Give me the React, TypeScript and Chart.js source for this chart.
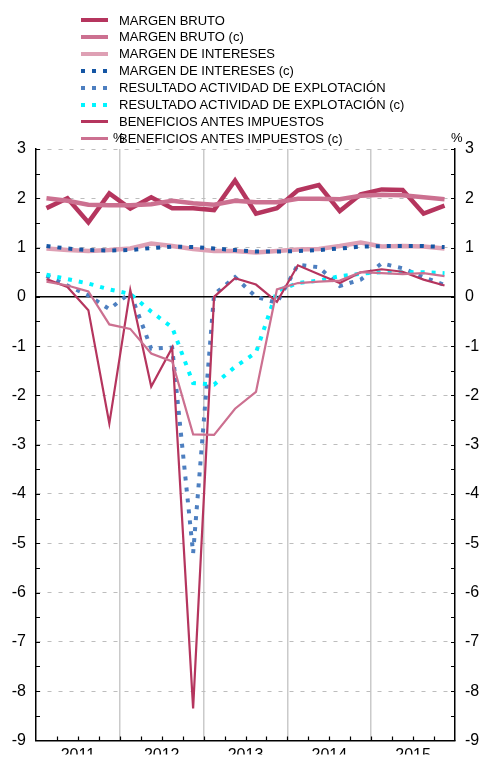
import React, { useEffect, useRef } from 'react';
import { Chart, registerables } from 'chart.js';

Chart.register(...registerables);

const FONT = "'Liberation Sans', Arial, Helvetica, sans-serif";

// 20 quarters, 2011 T1 .. 2015 T4
const QUARTERS = [
  '2011-T1', '2011-T2', '2011-T3', '2011-T4',
  '2012-T1', '2012-T2', '2012-T3', '2012-T4',
  '2013-T1', '2013-T2', '2013-T3', '2013-T4',
  '2014-T1', '2014-T2', '2014-T3', '2014-T4',
  '2015-T1', '2015-T2', '2015-T3', '2015-T4',
];
const YEARS = ['2011', '2012', '2013', '2014', '2015'];
const Y_TICKS_MIN = -9;
const Y_TICKS_MAX = 3;

const MARGEN_BRUTO = [1.80, 2.00, 1.51, 2.10, 1.79, 2.02, 1.80, 1.80, 1.76, 2.36, 1.69, 1.80, 2.16, 2.27, 1.74, 2.08, 2.18, 2.17, 1.69, 1.85];
const MARGEN_BRUTO_C = [2.00, 1.95, 1.87, 1.86, 1.86, 1.88, 1.95, 1.90, 1.87, 1.95, 1.92, 1.92, 1.99, 1.99, 1.98, 2.05, 2.07, 2.06, 2.02, 1.98];
const MARGEN_INTERESES = [0.98, 0.95, 0.93, 0.95, 0.98, 1.08, 1.03, 0.97, 0.93, 0.93, 0.90, 0.93, 0.96, 0.97, 1.03, 1.10, 1.02, 1.03, 1.02, 0.98];
const MARGEN_INTERESES_C = [1.03, 0.98, 0.95, 0.94, 0.95, 0.99, 1.02, 1.01, 0.98, 0.95, 0.92, 0.92, 0.93, 0.95, 0.98, 1.02, 1.03, 1.03, 1.03, 1.01];
const RESULTADO = [0.43, 0.23, 0.03, -0.25, 0.08, -1.05, -1.03, -5.2, 0.05, 0.40, 0.0, -0.12, 0.65, 0.60, 0.22, 0.35, 0.68, 0.58, 0.40, 0.24];
const RESULTADO_C = [0.45, 0.36, 0.27, 0.15, 0.06, -0.30, -0.62, -1.75, -1.78, -1.42, -1.13, 0.12, 0.28, 0.33, 0.42, 0.47, 0.50, 0.50, 0.50, 0.48];
const BENEFICIOS = [0.36, 0.20, -0.27, -2.57, 0.14, -1.82, -1.03, -8.35, 0.0, 0.38, 0.25, -0.10, 0.64, 0.46, 0.28, 0.50, 0.56, 0.51, 0.35, 0.23];
const BENEFICIOS_C = [0.31, 0.23, 0.11, -0.56, -0.65, -1.15, -1.31, -2.79, -2.80, -2.27, -1.93, 0.15, 0.28, 0.31, 0.33, 0.50, 0.48, 0.46, 0.48, 0.42];

type Series = { label: string; data: number[]; color: string; width: number; dotted: boolean };

const SERIES: Series[] = [
  { label: 'MARGEN BRUTO', data: MARGEN_BRUTO, color: '#b5355e', width: 4.5, dotted: false },
  { label: 'MARGEN BRUTO (c)', data: MARGEN_BRUTO_C, color: '#cc7090', width: 4.5, dotted: false },
  { label: 'MARGEN DE INTERESES', data: MARGEN_INTERESES, color: '#dea0b4', width: 4.5, dotted: false },
  { label: 'MARGEN DE INTERESES (c)', data: MARGEN_INTERESES_C, color: '#1556a4', width: 4, dotted: true },
  { label: 'RESULTADO ACTIVIDAD DE EXPLOTACIÓN', data: RESULTADO, color: '#4d7fc0', width: 4, dotted: true },
  { label: 'RESULTADO ACTIVIDAD DE EXPLOTACIÓN (c)', data: RESULTADO_C, color: '#00f4ff', width: 4, dotted: true },
  { label: 'BENEFICIOS ANTES IMPUESTOS', data: BENEFICIOS, color: '#b5355e', width: 2.2, dotted: false },
  { label: 'BENEFICIOS ANTES IMPUESTOS (c)', data: BENEFICIOS_C, color: '#cc7090', width: 2.2, dotted: false },
];

const innerTicks = {
  id: 'innerTicks',
  beforeDatasetsDraw(chart: any) {
    const { ctx, chartArea: a, scales } = chart;
    const y0 = scales.y.getPixelForValue(0);
    ctx.save();
    ctx.strokeStyle = '#000';
    ctx.lineWidth = 1.5;
    ctx.beginPath();
    ctx.moveTo(a.left, y0);
    ctx.lineTo(a.right, y0);
    ctx.stroke();
    ctx.restore();
  },
  afterDraw(chart: any) {
    const { ctx, chartArea: a, scales } = chart;
    ctx.save();
    ctx.strokeStyle = '#000';
    ctx.lineWidth = 1.2;
    ctx.beginPath();
    for (let v = Y_TICKS_MIN; v <= Y_TICKS_MAX; v += 0.5) {
      const py = Math.round(scales.y.getPixelForValue(v)) + 0.5;
      ctx.moveTo(a.left, py);
      ctx.lineTo(a.left + 4, py);
      ctx.moveTo(a.right, py);
      ctx.lineTo(a.right - 4, py);
    }
    for (let k = 1; k < QUARTERS.length; k++) {
      const px = Math.round(scales.x.getPixelForValue(k)) + 0.5;
      ctx.moveTo(px, a.bottom);
      ctx.lineTo(px, a.bottom - 4);
    }
    ctx.stroke();
    ctx.restore();
  },
};

function LegendSample({ s }: { s: Series }) {
  const base: React.CSSProperties = { position: 'absolute', left: 81, width: 27 };
  if (s.dotted) {
    return (
      <div
        style={{
          ...base,
          top: 8.5 - 2,
          height: 4,
          background: `repeating-linear-gradient(to right, ${s.color} 0px, ${s.color} 4px, transparent 4px, transparent 11px)`,
        }}
      />
    );
  }
  const h = s.width > 3 ? 4.5 : 2.5;
  return <div style={{ ...base, top: 8.5 - h / 2, height: h, background: s.color }} />;
}

export default function App() {
  const ref = useRef<HTMLCanvasElement>(null);

  useEffect(() => {
    if (!ref.current) return;
    Chart.defaults.font.family = FONT;
    Chart.defaults.color = '#000';
    const chart = new Chart(ref.current, {
      type: 'line',
      data: {
        datasets: SERIES.map((s, i) => ({
          label: s.label,
          data: s.data.map((v, k) => ({ x: k + 0.5, y: v })),
          borderColor: s.color,
          backgroundColor: s.color,
          borderWidth: s.width,
          borderDash: s.dotted ? [4, 7] : [],
          borderCapStyle: 'butt',
          borderJoinStyle: 'miter',
          pointRadius: 0,
          pointHoverRadius: 0,
          tension: 0,
          fill: false,
          order: -i,
        })),
      },
      options: {
        responsive: false,
        animation: false,
        events: [],
        layout: { padding: { top: 149, left: 0, right: 0, bottom: 0 } },
        plugins: { legend: { display: false }, tooltip: { enabled: false }, title: { display: false } },
        scales: {
          x: {
            type: 'linear',
            position: 'bottom',
            min: 0,
            max: QUARTERS.length,
            afterFit: (s: any) => { s.height = 14; },
            ticks: {
              stepSize: 2,
              autoSkip: false,
              maxRotation: 0,
              padding: 6,
              font: { size: 16, family: FONT },
              color: '#000',
              callback: (v: any) => {
                const n = Number(v);
                return n % 4 === 2 ? YEARS[(n - 2) / 4] : '';
              },
            },
            grid: {
              drawTicks: false,
              lineWidth: 1.5,
              color: (c: any) => {
                const v = c.tick ? c.tick.value : -1;
                return v % 4 === 0 && v > 0 && v < QUARTERS.length ? '#cacaca' : 'rgba(0,0,0,0)';
              },
            },
            border: { display: true, color: '#000', width: 1.5 },
          },
          y: {
            type: 'linear',
            position: 'left',
            min: Y_TICKS_MIN,
            max: Y_TICKS_MAX,
            afterFit: (s: any) => { s.width = 36; },
            ticks: { stepSize: 1, padding: 10, font: { size: 16, family: FONT }, color: '#000' },
            grid: {
              drawTicks: false,
              lineWidth: 1,
              color: (c: any) => {
                const v = c.tick ? c.tick.value : 0;
                return v === 0 || v === Y_TICKS_MIN ? 'rgba(0,0,0,0)' : '#bdbdbd';
              },
            },
            border: { display: true, color: '#000', width: 1.5, dash: [4, 7] },
          },
          y2: {
            type: 'linear',
            position: 'right',
            min: Y_TICKS_MIN,
            max: Y_TICKS_MAX,
            afterFit: (s: any) => { s.width = 26; },
            ticks: { stepSize: 1, padding: 10, font: { size: 16, family: FONT }, color: '#000' },
            grid: { drawOnChartArea: false, drawTicks: false },
            border: { display: true, color: '#000', width: 1.5 },
          },
        },
      },
      plugins: [innerTicks],
    } as any);
    return () => chart.destroy();
  }, []);

  return (
    <div style={{ position: 'fixed', left: 0, top: 0, width: 481, height: 760, background: '#fff', overflow: 'hidden' }}>
      <canvas ref={ref} width={481} height={760} style={{ display: 'block', width: 481, height: 760 }} />
      {SERIES.map((s, i) => (
        <div key={s.label} style={{ position: 'absolute', left: 0, top: 20 + 16.9 * i - 8.5, width: 481, height: 17 }}>
          <LegendSample s={s} />
          <div
            style={{
              position: 'absolute',
              left: 119,
              top: 0,
              font: `13px ${FONT}`,
              lineHeight: '17px',
              whiteSpace: 'nowrap',
              color: '#000',
            }}
          >
            {s.label}
          </div>
        </div>
      ))}
      <div style={{ position: 'absolute', left: 113, top: 129, font: `13px ${FONT}`, lineHeight: '17px' }}>%</div>
      <div style={{ position: 'absolute', left: 451, top: 129, font: `13px ${FONT}`, lineHeight: '17px' }}>%</div>
    </div>
  );
}
